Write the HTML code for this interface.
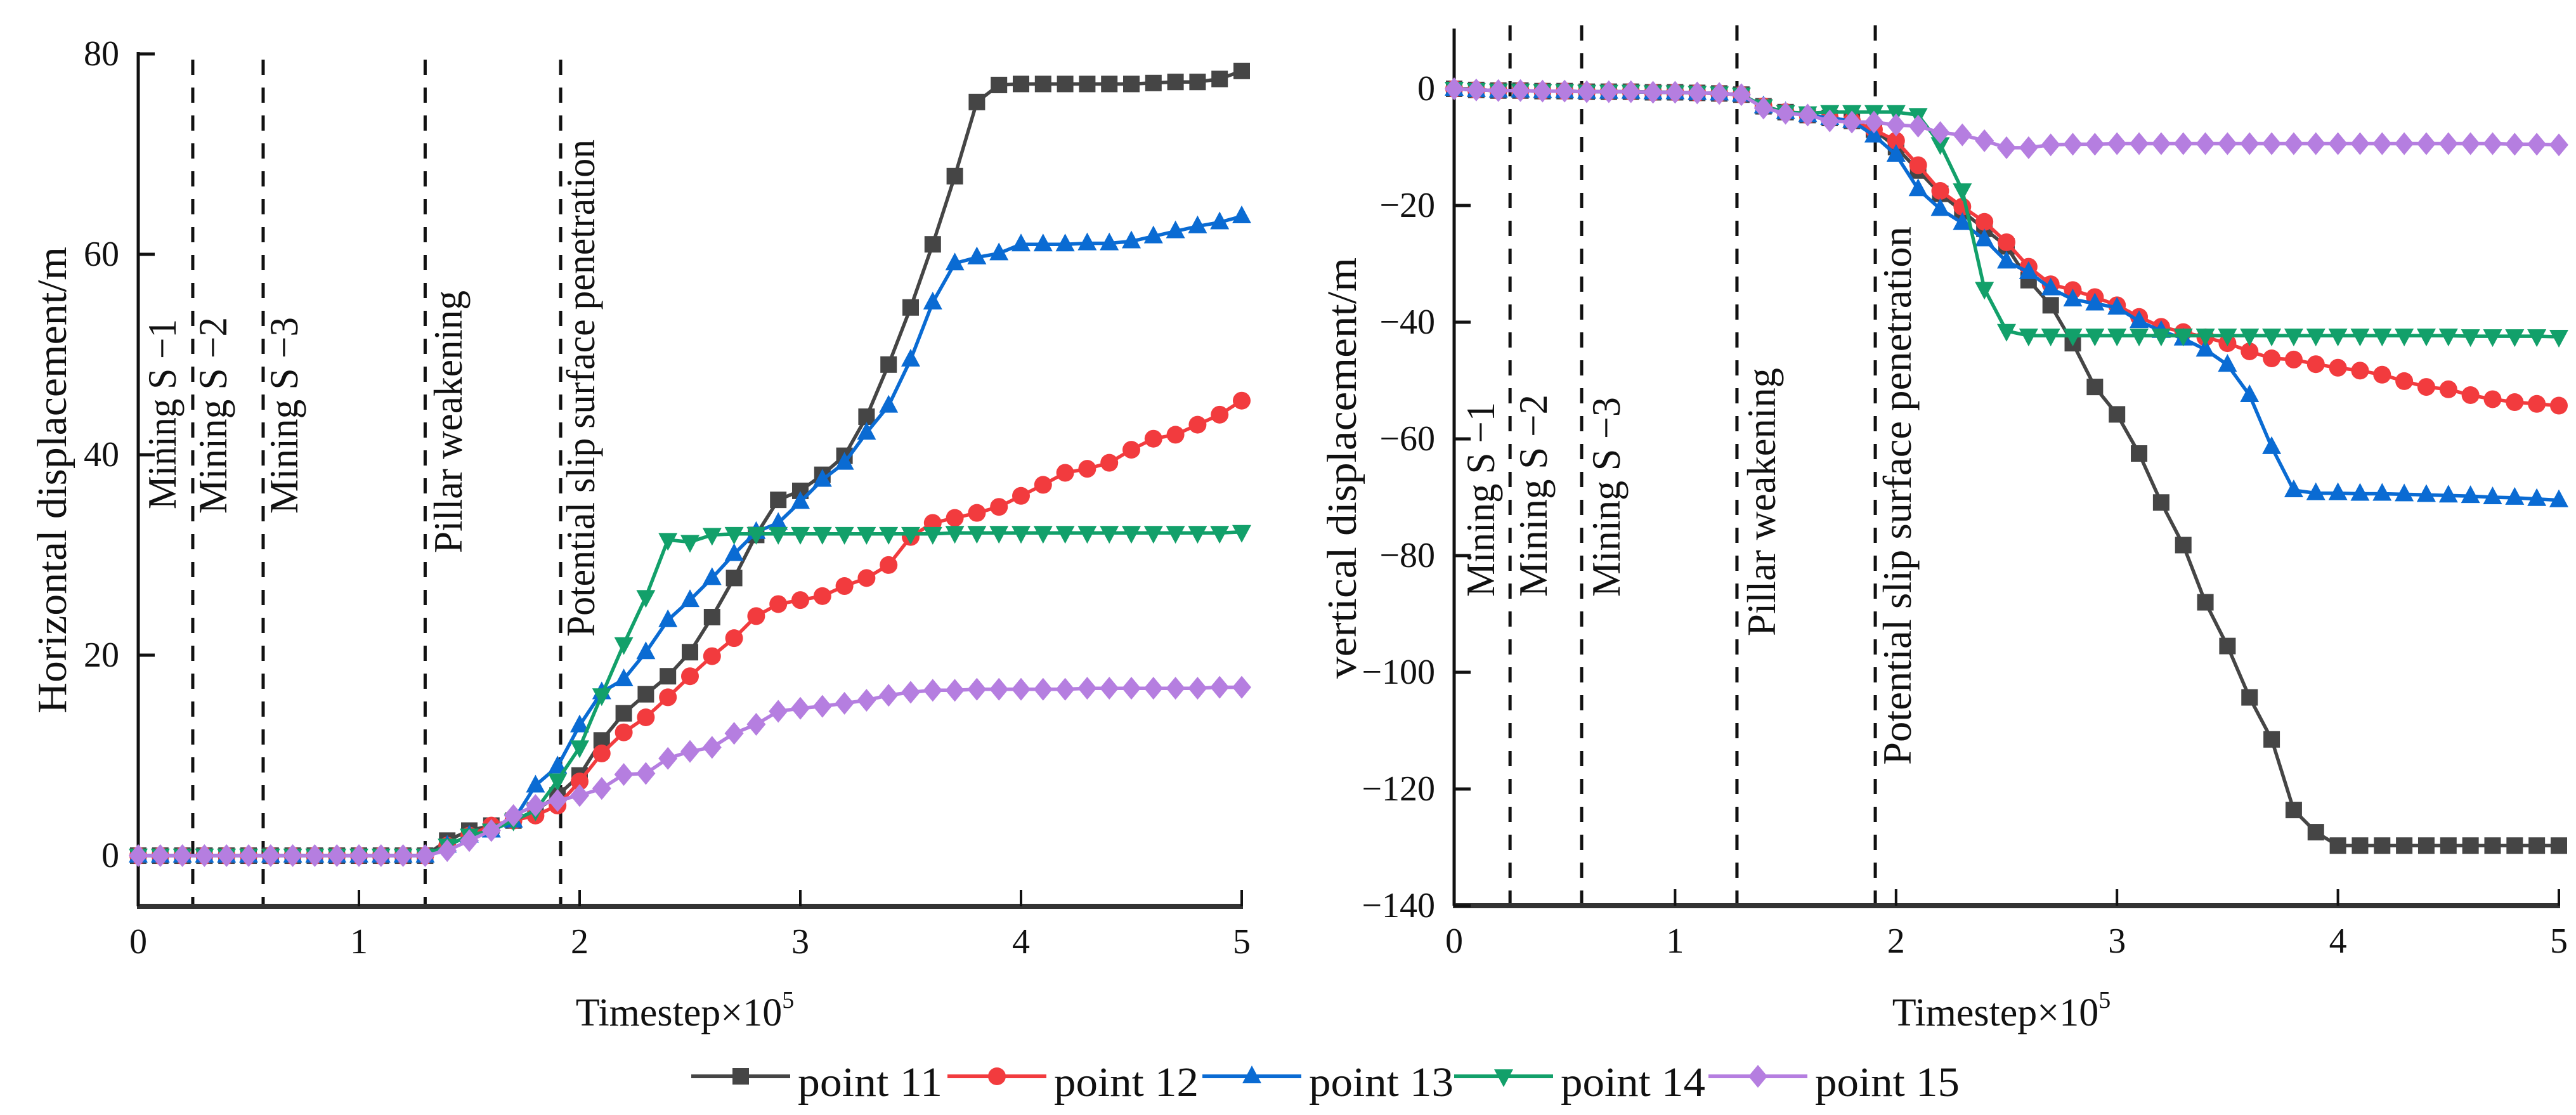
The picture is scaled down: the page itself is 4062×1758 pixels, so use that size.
<!DOCTYPE html>
<html><head><meta charset="utf-8"><style>
html,body{margin:0;padding:0;background:#fff;}
svg{display:block;}
text{font-family:"Liberation Serif",serif;fill:#111;}
</style></head>
<body>
<svg id="fig" width="4062" height="1758" viewBox="0 0 4062 1758" xmlns="http://www.w3.org/2000/svg">
<g id="left"></g>
<g id="right"></g>
<g id="legend"></g>
</svg>
<script>
const timesteps = Array.from({length:51},(_,i)=>+(i*0.1).toFixed(1));
const xTicks = [0,1,2,3,4,5];
const hTicks = [0,20,40,60,80];
const vTicks = [0,-20,-40,-60,-80,-100,-120,-140];
const seriesNames = ["point 11","point 12","point 13","point 14","point 15"];
const eventNames = ["Mining S \u22121","Mining S \u22122","Mining S \u22123","Pillar weakening","Potential slip surface penetration"];
const eventTimesLeft = [0.247,0.566,1.30,1.914];
const eventTimesRight = [0.253,0.577,1.28,1.906];

const Z14 = [0,0,0,0,0,0,0,0,0,0,0,0,0,0];
const h11 = Z14.concat([1.5,2.5,3,3.5,4.5,6,8,11.5,14.2,16.1,17.9,20.3,23.8,27.7,32,35.5,36.4,38,39.9,43.8,49,54.7,61,67.8,75.2,76.9,77,77,77,77,77,77,77.1,77.2,77.2,77.5,78.3]);
const h12 = Z14.concat([1,2,3,3.5,4,5,7.4,10.2,12.3,13.8,15.8,17.9,19.9,21.7,23.9,25.1,25.5,25.9,26.9,27.7,29,31.8,33.2,33.7,34.2,34.8,35.9,37,38.2,38.6,39.2,40.5,41.6,42,43,44,45.4]);
const h13 = Z14.concat([1,2,2.5,3.5,7,8.9,13,16.3,17.6,20.3,23.5,25.5,27.7,30.1,32.3,33.2,35.3,37.5,39.2,42.2,44.9,49.5,55.2,59.1,59.7,60.1,61,61,61,61.1,61.1,61.3,61.8,62.3,62.8,63.2,63.8]);
const h14 = Z14.concat([1,2,2.5,3.5,4.5,7.5,10.8,16,21.1,25.8,31.5,31.3,32,32.1,32.1,32.1,32.1,32.1,32.1,32.1,32.1,32.1,32.1,32.2,32.2,32.2,32.2,32.2,32.2,32.2,32.2,32.2,32.2,32.2,32.2,32.2,32.3]);
const h15 = Z14.concat([0.5,1.5,2.5,4,5,5.5,6,6.7,8.1,8.2,9.7,10.4,10.8,12.2,13.1,14.4,14.7,14.9,15.2,15.5,16,16.3,16.5,16.5,16.6,16.6,16.6,16.6,16.6,16.7,16.7,16.7,16.7,16.7,16.7,16.8,16.8]);

const VB = [0,-0.2,-0.3,-0.3,-0.4,-0.4,-0.5,-0.5,-0.5,-0.6,-0.6,-0.7,-0.8,-1.0];
const v11 = VB.concat([-3,-4,-4.5,-5,-5.5,-7,-10,-14,-18,-21,-24,-27,-32.8,-37.1,-43.6,-51.1,-55.8,-62.5,-70.9,-78.2,-88,-95.5,-104.3,-111.5,-123.6,-127.4,-129.7,-129.7,-129.7,-129.7,-129.7,-129.7,-129.7,-129.7,-129.7,-129.7,-129.7]);
const v12 = VB.concat([-3,-4,-4.5,-5,-5.5,-7,-8.9,-13.1,-17.5,-20.2,-22.8,-26.3,-30.5,-33.5,-34.5,-35.7,-37.1,-39.1,-40.8,-41.7,-42.6,-43.6,-45,-46.2,-46.4,-47.2,-47.8,-48.3,-49,-50.1,-51.1,-51.5,-52.5,-53.2,-53.7,-54,-54.3]);
const v13 = VB.concat([-3,-4,-4.5,-5,-5.5,-8,-11.3,-17.2,-20.6,-23,-25.8,-29.6,-31.4,-34.2,-36.1,-36.8,-37.5,-39.8,-41.5,-42.8,-44.7,-47.3,-52.5,-61.4,-68.8,-69.3,-69.3,-69.4,-69.4,-69.5,-69.6,-69.7,-69.8,-70,-70.1,-70.3,-70.5]);
const v14 = VB.concat([-3,-4,-4.2,-4,-4,-4,-4,-4.5,-9.5,-17.4,-34.3,-41.5,-42.3,-42.3,-42.3,-42.3,-42.3,-42.3,-42.3,-42.3,-42.3,-42.3,-42.3,-42.3,-42.3,-42.3,-42.3,-42.3,-42.3,-42.3,-42.3,-42.3,-42.4,-42.4,-42.4,-42.4,-42.5]);
const v15 = VB.concat([-3.3,-4.2,-4.5,-5.5,-5.7,-5.7,-6.2,-6.4,-7.5,-7.9,-8.9,-10.1,-10.1,-9.6,-9.5,-9.5,-9.4,-9.4,-9.4,-9.4,-9.4,-9.4,-9.4,-9.4,-9.4,-9.4,-9.4,-9.4,-9.4,-9.4,-9.4,-9.4,-9.4,-9.4,-9.5,-9.5,-9.6]);

const colors = ["#454545","#f23b3e","#0a6bd3","#12a06a","#b57ee0"];
const markers = ["square","circle","tri-up","tri-down","diamond"];
const NS = "http://www.w3.org/2000/svg";
function mk(tag, attrs, parent){
  const e = document.createElementNS(NS, tag);
  for (const k in attrs) e.setAttribute(k, attrs[k]);
  if (parent) parent.appendChild(e);
  return e;
}
function marker(g, type, x, y, col){
  let e;
  const s = 13;
  if (type==="square") e = mk("rect",{x:x-s,y:y-s,width:2*s,height:2*s,fill:col},g);
  else if (type==="circle") e = mk("circle",{cx:x,cy:y,r:s+1,fill:col},g);
  else if (type==="tri-up") e = mk("polygon",{points:`${x},${y-17} ${x+15},${y+11} ${x-15},${y+11}`,fill:col},g);
  else if (type==="tri-down") e = mk("polygon",{points:`${x},${y+17} ${x+15},${y-11} ${x-15},${y-11}`,fill:col},g);
  else e = mk("polygon",{points:`${x},${y-18} ${x+15},${y} ${x},${y+18} ${x-15},${y}`,fill:col},g);
  return e;
}

function chart(gid, cfg){
  const g = document.getElementById(gid);
  const X = t => cfg.x0 + (t - 0) * (cfg.x1 - cfg.x0) / 5;
  const Y = v => cfg.yTop + (cfg.vTop - v) * (cfg.yBot - cfg.yTop) / (cfg.vTop - cfg.vBot);
  cfg.events.forEach((t,i)=>{
    const l = mk("line",{x1:X(t),x2:X(t),y1:cfg.dashTop,y2:cfg.yBot,stroke:"#111","stroke-width":5,"stroke-dasharray":"24 20"},g);
    
    
  });
  cfg.labels.forEach((lb,i)=>{
    const tx = mk("text",{transform:`translate(${lb.x},${lb.y}) rotate(-90)`,"font-size":64,textLength:lb.len,lengthAdjust:"spacingAndGlyphs"},g);
    tx.textContent = eventNames[i];
    
    
  });
  const ya = mk("line",{x1:cfg.x0,x2:cfg.x0,y1:cfg.yTop-3,y2:cfg.yBot,stroke:"#111","stroke-width":5},g);
  
  
  const xa = mk("line",{x1:cfg.x0-2,x2:cfg.x1+2,y1:cfg.yBot,y2:cfg.yBot,stroke:"#333","stroke-width":8},g);
  
  
  xTicks.forEach(t=>{
    const tk = mk("line",{x1:X(t),x2:X(t),y1:cfg.yBot,y2:cfg.yBot-26,stroke:"#111","stroke-width":4},g);
    
    
    const tl = mk("text",{x:X(t),y:cfg.yBot+74,"font-size":56,"text-anchor":"middle"},g);
    tl.textContent = String(t);
    
    
  });
  cfg.yTicks.forEach(v=>{
    const tk = mk("line",{x1:cfg.x0,x2:cfg.x0+26,y1:Y(v),y2:Y(v),stroke:"#111","stroke-width":5},g);
    
    
    const tl = mk("text",{x:cfg.x0-30,y:Y(v)+18,"font-size":56,"text-anchor":"end"},g);
    tl.textContent = v<0 ? "\u2212"+Math.abs(v) : String(v);
    
    
  });
  const yt = mk("text",{transform:`translate(${cfg.ytX},${cfg.ytY}) rotate(-90)`,"font-size":66,"text-anchor":"middle",textLength:cfg.ytLen,lengthAdjust:"spacingAndGlyphs"},g);
  yt.textContent = cfg.yTitle;
  
  
  const xt = mk("text",{x:(cfg.x0+cfg.x1)/2-8,y:1617,"font-size":62,"text-anchor":"middle"},g);
  
  
  xt.appendChild(document.createTextNode("Timestep\u00d710"));
  const sup = mk("tspan",{"font-size":38,dy:-28},xt);
  sup.textContent = "5";
  cfg.series.forEach((vals,si)=>{
    const sg = mk("g",{},g);
    
    
    const pts = vals.map((v,i)=>X(timesteps[i]).toFixed(1)+","+Y(v).toFixed(1)).join(" ");
    const pl = mk("polyline",{points:pts,fill:"none",stroke:colors[si],"stroke-width":5.5,"stroke-linejoin":"round"},sg);
    
    
    vals.forEach((v,i)=>{
      const m = marker(sg, markers[si], X(timesteps[i]), Y(v), colors[si]);
      
      
    });
  });
}

chart("left",{x0:218,x1:1958,yTop:85,yBot:1429,vTop:80,vBot:-5.06,dashTop:94,
  events:eventTimesLeft,yTicks:hTicks,series:[h11,h12,h13,h14,h15],
  yTitle:"Horizontal displacement/m",ytX:104,ytY:757,ytLen:736,
  labels:[{x:277,y:803,len:300},{x:357,y:810,len:310},{x:469,y:810,len:310},{x:728,y:872,len:414},{x:937,y:1004,len:784}]});
chart("right",{x0:2293,x1:4035,yTop:48,yBot:1428,vTop:10,vBot:-140,dashTop:40,
  events:eventTimesRight,yTicks:vTicks,series:[v11,v12,v13,v14,v15],
  yTitle:"vertical displacement/m",ytX:2138,ytY:738,ytLen:664,
  labels:[{x:2356,y:941,len:307},{x:2439,y:941,len:319},{x:2554,y:941,len:315},{x:2799,y:1003,len:423},{x:3013,y:1206,len:849}]});

const lg = document.getElementById("legend");
const legX = [1090,1494,1896,2293,2694];
seriesNames.forEach((n,i)=>{
  const eg = mk("g",{},lg);
  
  
  mk("line",{x1:legX[i],x2:legX[i]+156,y1:1697,y2:1697,stroke:colors[i],"stroke-width":6},eg);
  marker(eg, markers[i], legX[i]+78, 1697, colors[i]);
  const t = mk("text",{x:legX[i]+168,y:1728,"font-size":66,textLength:228,lengthAdjust:"spacingAndGlyphs"},eg);
  t.textContent = n;
});
</script>
</body></html>
